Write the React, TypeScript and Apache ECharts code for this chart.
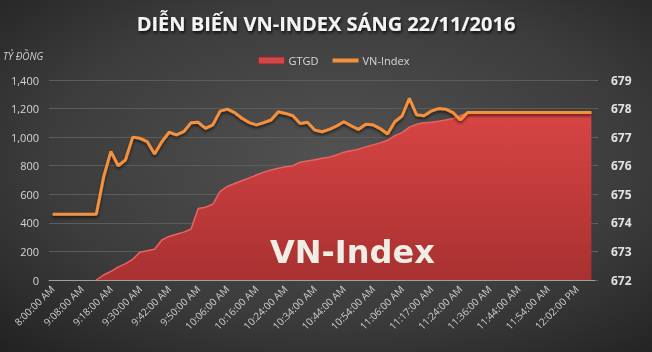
import React, { useEffect, useRef } from "react";
import * as echarts from "echarts";

const times: string[] = [
  "8:00:00 AM", "8:30:00 AM", "9:00:00 AM", "9:04:00 AM",
  "9:08:00 AM", "9:10:00 AM", "9:14:00 AM", "9:16:00 AM",
  "9:18:00 AM", "9:21:00 AM", "9:24:00 AM", "9:27:00 AM",
  "9:30:00 AM", "9:33:00 AM", "9:36:00 AM", "9:39:00 AM",
  "9:42:00 AM", "9:44:00 AM", "9:46:00 AM", "9:48:00 AM",
  "9:50:00 AM", "9:54:00 AM", "9:58:00 AM", "10:02:00 AM",
  "10:06:00 AM", "10:08:00 AM", "10:11:00 AM", "10:14:00 AM",
  "10:16:00 AM", "10:18:00 AM", "10:20:00 AM", "10:22:00 AM",
  "10:24:00 AM", "10:26:00 AM", "10:29:00 AM", "10:32:00 AM",
  "10:34:00 AM", "10:36:00 AM", "10:39:00 AM", "10:42:00 AM",
  "10:44:00 AM", "10:46:00 AM", "10:49:00 AM", "10:52:00 AM",
  "10:54:00 AM", "10:57:00 AM", "11:00:00 AM", "11:03:00 AM",
  "11:06:00 AM", "11:09:00 AM", "11:12:00 AM", "11:15:00 AM",
  "11:17:00 AM", "11:19:00 AM", "11:21:00 AM", "11:23:00 AM",
  "11:24:00 AM", "11:27:00 AM", "11:30:00 AM", "11:33:00 AM",
  "11:36:00 AM", "11:38:00 AM", "11:40:00 AM", "11:42:00 AM",
  "11:44:00 AM", "11:46:00 AM", "11:49:00 AM", "11:52:00 AM",
  "11:54:00 AM", "11:56:00 AM", "11:58:00 AM", "12:00:00 PM",
  "12:02:00 PM", "12:04:00 PM", "12:06:00 PM",
];

// Trading value (tỷ đồng), left axis
const gtgd: (number | null)[] = [
  null, null, null, null, null, null, 0, 35,
  60, 90, 115, 145, 195, 205, 215, 280,
  305, 320, 335, 355, 500, 510, 530, 620,
  655, 675, 695, 715, 735, 755, 770, 782,
  792, 800, 825, 833, 842, 852, 860, 875,
  895, 905, 915, 932, 946, 960, 978, 1010,
  1032, 1070, 1090, 1100, 1105, 1112, 1120, 1130,
  1150, 1170, 1170, 1170, 1170, 1170, 1170, 1170,
  1170, 1170, 1170, 1170, 1170, 1170, 1170, 1170,
  1170, 1170, 1170,
];

// VN-Index, right axis
const vnIndex: number[] = [
  674.3, 674.3, 674.3, 674.3, 674.3, 674.3, 674.3, 675.6,
  676.5, 676.0, 676.2, 677.0, 676.96, 676.84, 676.41, 676.84,
  677.17, 677.08, 677.19, 677.5, 677.52, 677.31, 677.43, 677.91,
  677.98, 677.86, 677.66, 677.51, 677.43, 677.51, 677.6, 677.89,
  677.83, 677.75, 677.48, 677.52, 677.25, 677.19, 677.27, 677.39,
  677.54, 677.4, 677.27, 677.45, 677.43, 677.3, 677.11, 677.54,
  677.74, 678.36, 677.78, 677.75, 677.91, 678.0, 677.98, 677.86,
  677.6, 677.86, 677.86, 677.86, 677.86, 677.86, 677.86, 677.86,
  677.86, 677.86, 677.86, 677.86, 677.86, 677.86, 677.86, 677.86,
  677.86, 677.86, 677.86,
];

const leftTicks = { min: 0, max: 1400, interval: 200 };
const rightTicks = { min: 672, max: 679, interval: 1 };

const titleText = "DIỄN BIẾN VN-INDEX SÁNG 22/11/2016";
const unitText = "TỶ ĐỒNG";
const watermark = "VN-Index";

export default function App() {
  const ref = useRef<HTMLDivElement>(null);
  useEffect(() => {
    if (!ref.current) return;
    const chart = echarts.init(ref.current, undefined, { renderer: "svg" });
    const font = "'Open Sans', 'Noto Sans', sans-serif";
    chart.setOption({
      animation: false,
      backgroundColor: {
        type: "radial",
        x: 0.52,
        y: 0.45,
        r: 0.75,
        colorStops: [
          { offset: 0, color: "#525252" },
          { offset: 0.6, color: "#3c3c3c" },
          { offset: 1, color: "#222222" },
        ],
      },
      textStyle: { fontFamily: font },
      title: {
        text: titleText,
        left: "center",
        top: 8,
        textStyle: {
          color: "#f4f4f4",
          fontSize: 20,
          fontWeight: "bold",
          fontFamily: font,
          textShadowColor: "rgba(0,0,0,0.8)",
          textShadowBlur: 3,
          textShadowOffsetX: 1,
          textShadowOffsetY: 2,
        },
      },
      legend: {
        top: 50,
        left: 253,
        itemGap: 14,
        itemWidth: 26,
        itemHeight: 7,
        textStyle: { color: "#d8d8d8", fontSize: 11, fontFamily: font, padding: [0, 0, 0, -1] },
        data: [
          {
            name: "GTGD",
            icon: "rect",
            itemStyle: { color: "#d04848", borderColor: "#8a2a2a", borderWidth: 1 },
          },
          {
            name: "VN-Index",
            icon: "path://M0 0H26V4H0Z",
            itemStyle: { color: "#f5903c" },
          },
        ],
      },
      graphic: [
        {
          type: "text",
          left: 3,
          top: 51,
          style: {
            text: unitText,
            fill: "#cfcfcf",
            font: `italic 10px ${font}`,
          },
        },
        {
          type: "text",
          left: 270,
          top: 236,
          z: 100,
          style: {
            text: watermark,
            fill: "#f0eee4",
            font: `bold 32px 'DejaVu Sans', sans-serif`,
            shadowColor: "rgba(0,0,0,0.5)",
            shadowBlur: 3,
            shadowOffsetX: 1,
            shadowOffsetY: 2,
          },
        },
      ],
      grid: { left: 49, right: 57, top: 80, bottom: 72 },
      xAxis: {
        type: "category",
        data: times,
        boundaryGap: true,
        axisLine: { lineStyle: { color: "#a0a0a0", width: 1 } },
        axisTick: { show: false },
        axisLabel: {
          interval: 3,
          rotate: 45,
          color: "#cfcfcf",
          fontSize: 10,
          margin: 7,
          fontFamily: font,
        },
      },
      yAxis: [
        {
          type: "value",
          min: leftTicks.min,
          max: leftTicks.max,
          interval: leftTicks.interval,
          axisLine: { show: false },
          axisTick: { show: false },
          splitLine: { lineStyle: { color: "#5c5c5c", width: 1 } },
          axisLabel: {
            color: "#d4d4d4",
            fontSize: 11,
            margin: 10,
            fontFamily: font,
            formatter: (v: number) => v.toLocaleString("en-US"),
          },
        },
        {
          type: "value",
          min: rightTicks.min,
          max: rightTicks.max,
          interval: rightTicks.interval,
          position: "right",
          axisLine: { show: false },
          axisTick: { show: true, length: 3, lineStyle: { color: "#666" } },
          splitLine: { show: false },
          axisLabel: {
            color: "#e2e2e2",
            fontSize: 12,
            fontWeight: "bold",
            margin: 16,
            fontFamily: font,
          },
        },
      ],
      series: [
        {
          name: "GTGD",
          type: "line",
          yAxisIndex: 0,
          data: gtgd,
          symbol: "none",
          connectNulls: false,
          lineStyle: { color: "#e86464", width: 1.5 },
          itemStyle: { color: "#c83c3c" },
          areaStyle: {
            color: {
              type: "linear",
              x: 0,
              y: 0,
              x2: 0,
              y2: 1,
              colorStops: [
                { offset: 0, color: "#d84444" },
                { offset: 1, color: "#a83131" },
              ],
            },
            opacity: 1,
          },
          z: 2,
        },
        {
          name: "VN-Index",
          type: "line",
          yAxisIndex: 1,
          data: vnIndex,
          symbol: "none",
          lineStyle: {
            color: "#f5903c",
            width: 3,
            shadowColor: "rgba(0,0,0,0.6)",
            shadowBlur: 3,
            shadowOffsetY: 2,
          },
          itemStyle: { color: "#f5903c" },
          z: 3,
        },
      ],
    });
    return () => chart.dispose();
  }, []);
  return (
    <div
      ref={ref}
      style={{ position: "fixed", left: 0, top: 0, width: 652, height: 352 }}
    />
  );
}
